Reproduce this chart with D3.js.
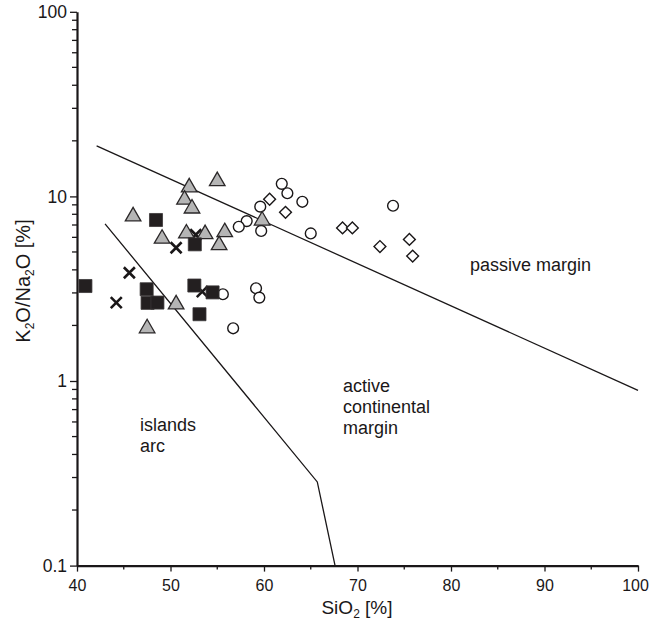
<!DOCTYPE html>
<html>
<head>
<meta charset="utf-8">
<script src="https://cdn.jsdelivr.net/npm/d3@7"></script>
<style>
  body { margin: 0; background: #fff; }
  svg { font-family: "Liberation Sans", Arial, sans-serif; }
</style>
</head>
<body>
<div id="chart"></div>
<script>
// SiO2 [%] vs K2O/Na2O [%] for each sample group
var triangles = [[52.0, 11.2], [55.0, 12.1], [51.5, 9.6], [52.3, 8.6], [46.0, 7.8], [51.7, 6.3], [53.7, 6.25],
  [49.1, 5.9], [55.8, 6.4], [55.2, 5.45], [59.8, 7.4], [50.6, 2.6], [47.5, 1.93]];
var squares = [[48.45, 7.45], [52.6, 5.5], [40.9, 3.27], [47.45, 3.14], [47.55, 2.65], [48.6, 2.66],
  [52.55, 3.29], [54.5, 3.02], [53.1, 2.3]];
var crosses = [[52.7, 6.2], [50.6, 5.27], [45.6, 3.86], [44.2, 2.66], [53.4, 3.05]];
var circles = [[61.9, 11.7], [62.5, 10.4], [64.1, 9.35], [59.6, 8.8], [58.15, 7.35], [57.3, 6.85], [59.7, 6.5],
  [65.0, 6.3], [73.8, 8.9], [59.15, 3.18], [59.5, 2.83], [55.6, 2.95], [56.7, 1.93]];
var diamonds = [[60.6, 9.65], [62.3, 8.2], [68.4, 6.75], [69.45, 6.75], [72.4, 5.35], [75.55, 5.85], [75.9, 4.75]];

// discrimination boundaries
var passiveLine = [[42.1, 18.8], [100, 0.89]];
var arcLine = [[43.0, 7.1], [65.7, 0.284], [67.6, 0.1]];

var xTicks = [40, 50, 60, 70, 80, 90, 100];
var yTicks = [0.1, 1, 10, 100];

var width = 650, height = 624;
var svg = d3.select('#chart').append('svg').attr('width', width).attr('height', height);

var x = d3.scaleLinear().domain([40, 100]).range([77, 638]);
var y = d3.scaleLog().domain([0.1, 100]).range([565.6, 11.8]);

var ink = '#1a1718';

// axes
var xAxis = d3.axisBottom(x).tickValues(xTicks).tickSize(6).tickSizeOuter(0).tickFormat(d3.format('d'));
var gx = svg.append('g').attr('transform', 'translate(0,' + y(0.1) + ')').call(xAxis);
gx.select('.domain').attr('stroke', ink).attr('stroke-width', 2.2);
gx.selectAll('.tick line').attr('stroke', ink).attr('stroke-width', 1.3);
gx.selectAll('.tick text').attr('font-size', 16).attr('fill', ink).attr('dy', '1em')
  .attr('font-family', '"Liberation Sans", Arial, sans-serif')
  .attr('x', d => d === 100 ? -3 : 0);
// minor x ticks
gx.selectAll('.minor').data(d3.range(45, 100, 10)).enter().append('line')
  .attr('x1', d => x(d)).attr('x2', d => x(d)).attr('y1', 0).attr('y2', 4)
  .attr('stroke', ink).attr('stroke-width', 1.3);

var yAxis = d3.axisLeft(y).tickValues(yTicks).tickSize(7).tickSizeOuter(0).tickFormat(d => d3.format('~g')(d));
var gy = svg.append('g').attr('transform', 'translate(' + x(40) + ',0)').call(yAxis);
gy.select('.domain').attr('stroke', ink).attr('stroke-width', 2.2);
gy.selectAll('.tick line').attr('stroke', ink).attr('stroke-width', 1.3);
gy.selectAll('.tick text').attr('font-size', 17.5).attr('fill', ink).attr('x', -10)
  .attr('font-family', '"Liberation Sans", Arial, sans-serif');
var yMinor = [];
[0.1, 1, 10].forEach(function(b) { for (var k = 2; k <= 9; k++) yMinor.push(b * k); });
gy.selectAll('.minor').data(yMinor).enter().append('line')
  .attr('x1', -5).attr('x2', 0).attr('y1', d => y(d)).attr('y2', d => y(d))
  .attr('stroke', ink).attr('stroke-width', 1.3);

// axis titles
var xt = svg.append('text').attr('x', 357).attr('y', 614).attr('text-anchor', 'middle')
  .attr('font-size', 19).attr('fill', ink);
xt.append('tspan').text('SiO');
xt.append('tspan').attr('font-size', 12).attr('dy', 4).text('2');
xt.append('tspan').attr('dy', -4).text(' [%]');

var yt = svg.append('text').attr('transform', 'translate(30,281) rotate(-90)').attr('text-anchor', 'middle')
  .attr('font-size', 20).attr('fill', ink);
yt.append('tspan').text('K');
yt.append('tspan').attr('font-size', 12).attr('dy', 4).text('2');
yt.append('tspan').attr('dy', -4).text('O/Na');
yt.append('tspan').attr('font-size', 12).attr('dy', 4).text('2');
yt.append('tspan').attr('dy', -4).text('O [%]');

// boundary lines
var line = d3.line().x(d => x(d[0])).y(d => y(d[1]));
svg.append('path').attr('d', line(passiveLine)).attr('fill', 'none').attr('stroke', ink).attr('stroke-width', 1.3);
svg.append('path').attr('d', line(arcLine)).attr('fill', 'none').attr('stroke', ink).attr('stroke-width', 1.3);

// field labels
function label(lines, px, py) {
  var t = svg.append('text').attr('font-size', 18).attr('fill', ink);
  lines.forEach(function(s, i) {
    t.append('tspan').attr('x', px).attr('y', py + i * 21).text(s);
  });
}
label(['passive margin'], 470, 271);
label(['active', 'continental', 'margin'], 343, 392);
label(['islands', 'arc'], 140, 431);

// markers
var pts = svg.append('g');
pts.selectAll('.circ').data(circles).enter().append('circle')
  .attr('cx', d => x(d[0])).attr('cy', d => y(d[1])).attr('r', 5.4)
  .attr('fill', '#fff').attr('stroke', ink).attr('stroke-width', 1.4);

pts.selectAll('.dia').data(diamonds).enter().append('path')
  .attr('d', d3.symbol().type(d3.symbolSquare).size(70))
  .attr('transform', d => 'translate(' + x(d[0]) + ',' + y(d[1]) + ') rotate(45)')
  .attr('fill', '#fff').attr('stroke', ink).attr('stroke-width', 1.4);

pts.selectAll('.cross').data(crosses).enter().append('path')
  .attr('d', 'M-5.5,-5.5L5.5,5.5M-5.5,5.5L5.5,-5.5')
  .attr('transform', d => 'translate(' + x(d[0]) + ',' + y(d[1]) + ')')
  .attr('fill', 'none').attr('stroke', ink).attr('stroke-width', 2.6);

pts.selectAll('.tri').data(triangles).enter().append('path')
  .attr('d', d3.symbol().type(d3.symbolTriangle).size(105))
  .attr('transform', d => 'translate(' + x(d[0]) + ',' + y(d[1]) + ')')
  .attr('fill', '#b5b5b5').attr('stroke', '#2a2728').attr('stroke-width', 1.3);

pts.selectAll('.sq').data(squares).enter().append('path')
  .attr('d', d3.symbol().type(d3.symbolSquare).size(170))
  .attr('transform', d => 'translate(' + x(d[0]) + ',' + y(d[1]) + ')')
  .attr('fill', '#231f20').attr('stroke', '#3a3637').attr('stroke-width', 0.8);
</script>
</body>
</html>
